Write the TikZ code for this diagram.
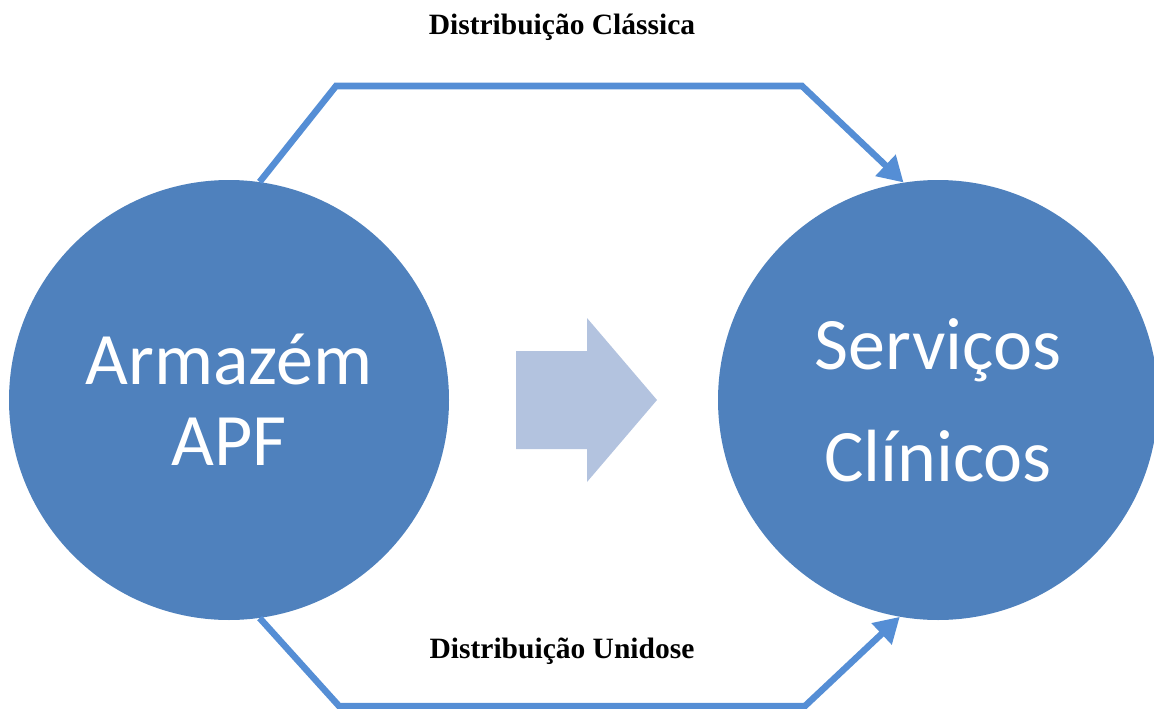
\documentclass[tikz,border=0pt]{standalone}
\usepackage{fontspec}
\setmainfont{Liberation Serif}
\newfontfamily\circlefont{Carlito}
\usetikzlibrary{arrows.meta}
\definecolor{hubblue}{RGB}{79,129,189}
\definecolor{flowblue}{RGB}{85,142,213}
\definecolor{paleblue}{RGB}{179,195,223}
\begin{document}
\begin{tikzpicture}[x=1pt,y=-1pt,
  hub/.style={circle,fill=hubblue,minimum size=440pt,inner sep=0pt,text=white,align=center},
  flow/.style={draw=flowblue,line width=6.5pt,-{Triangle[length=25pt,width=28pt]}},
  caption/.style={font=\fontsize{29.5}{34}\selectfont\bfseries}]
\useasboundingbox (0,0) rectangle (1154,709);
% the two sites
\node[hub,font=\circlefont\fontsize{74}{81}\selectfont] (apf) at (229,400) {Armazém\\APF};
\node[hub,font=\circlefont\fontsize{74}{112}\selectfont] (clin) at (938,400) {Serviços\\Clínicos};
% central direction arrow
\fill[paleblue] (516,351) -- (587,351) -- (587,318) -- (657,400) -- (587,482) -- (587,449) -- (516,449) -- cycle;
% distribution routes
\draw[flow] (apf.82) -- (336,86) -- (802,86) -- (clin.99);
\draw[flow] (apf.-82) -- (339,706) -- (805,706) -- (clin.-100);
\node[caption] (classica) at (562,27) {Distribuição Clássica};
\node[caption] (unidose) at (562,651) {Distribuição Unidose};
\end{tikzpicture}
\end{document}
